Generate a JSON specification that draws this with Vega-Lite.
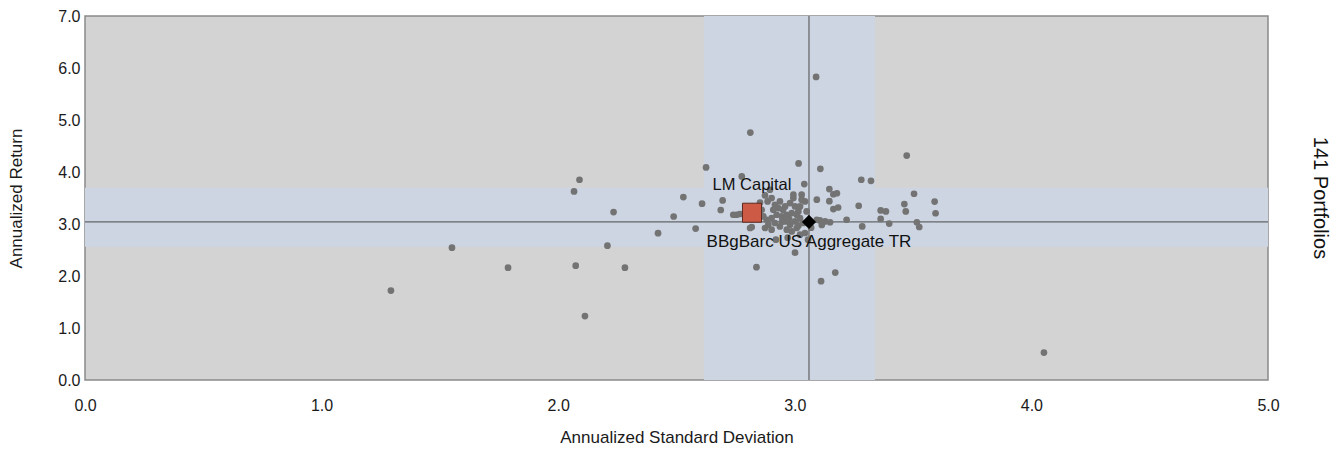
{
  "$schema": "https://vega.github.io/schema/vega-lite/v6.json",
  "width": 1183,
  "height": 364,
  "autosize": {"type": "none"},
  "padding": {"left": 85, "top": 16, "right": 74, "bottom": 71},
  "background": "white",
  "title": {"text": "141 Portfolios", "orient": "right", "anchor": "middle", "offset": 31, "fontSize": 20, "font": "Liberation Sans", "fontWeight": "normal", "color": "#111"},
  "datasets": {
    "bands": [
      {"x1": 2.616, "x2": 3.339, "y1": 0, "y2": 7},
      {"x1": 0, "x2": 5, "y1": 2.564, "y2": 3.697}
    ],
    "highlights": [
      {"name": "LM Capital", "std": 2.819, "ret": 3.217, "kind": "manager"},
      {"name": "BBgBarc US Aggregate TR", "std": 3.06, "ret": 3.04, "kind": "benchmark"}
    ],
    "portfolios": [
      {"std": 1.293, "ret": 1.719}, {"std": 1.551, "ret": 2.545}, {"std": 1.788, "ret": 2.161},
      {"std": 2.067, "ret": 3.626}, {"std": 2.09, "ret": 3.851}, {"std": 2.074, "ret": 2.199},
      {"std": 2.113, "ret": 1.229}, {"std": 2.208, "ret": 2.583}, {"std": 2.234, "ret": 3.23},
      {"std": 2.282, "ret": 2.161}, {"std": 2.422, "ret": 2.823}, {"std": 2.488, "ret": 3.144},
      {"std": 2.529, "ret": 3.518}, {"std": 2.608, "ret": 3.39}, {"std": 2.581, "ret": 2.913},
      {"std": 2.625, "ret": 4.087}, {"std": 2.812, "ret": 4.759}, {"std": 3.016, "ret": 4.164},
      {"std": 3.108, "ret": 4.062}, {"std": 2.695, "ret": 3.453}, {"std": 2.687, "ret": 3.269},
      {"std": 2.776, "ret": 3.914}, {"std": 2.818, "ret": 2.942}, {"std": 2.838, "ret": 2.17},
      {"std": 3.001, "ret": 2.449}, {"std": 3.04, "ret": 3.768}, {"std": 3.093, "ret": 3.467},
      {"std": 3.146, "ret": 3.672}, {"std": 3.146, "ret": 3.438}, {"std": 3.163, "ret": 3.572},
      {"std": 3.178, "ret": 3.591}, {"std": 3.163, "ret": 3.288}, {"std": 3.183, "ret": 3.317},
      {"std": 3.219, "ret": 3.082}, {"std": 3.27, "ret": 3.351}, {"std": 3.281, "ret": 3.851},
      {"std": 3.322, "ret": 3.831}, {"std": 3.285, "ret": 2.954}, {"std": 3.363, "ret": 3.261},
      {"std": 3.385, "ret": 3.242}, {"std": 3.363, "ret": 3.098}, {"std": 3.399, "ret": 3.009},
      {"std": 3.473, "ret": 4.315}, {"std": 3.504, "ret": 3.582}, {"std": 3.463, "ret": 3.384},
      {"std": 3.469, "ret": 3.242}, {"std": 3.516, "ret": 3.034}, {"std": 3.526, "ret": 2.942},
      {"std": 3.591, "ret": 3.432}, {"std": 3.595, "ret": 3.207}, {"std": 3.171, "ret": 2.065},
      {"std": 3.111, "ret": 1.901}, {"std": 3.106, "ret": 3.069}, {"std": 3.149, "ret": 3.034},
      {"std": 3.114, "ret": 2.981}, {"std": 3.128, "ret": 3.05}, {"std": 4.053, "ret": 0.528},
      {"std": 3.09, "ret": 5.829}, {"std": 3.029, "ret": 3.467}, {"std": 3.022, "ret": 3.338},
      {"std": 2.994, "ret": 3.563},
      {"std": 2.874, "ret": 3.549}, {"std": 2.885, "ret": 3.434}, {"std": 2.902, "ret": 3.499},
      {"std": 2.916, "ret": 3.37}, {"std": 2.93, "ret": 3.307}, {"std": 2.937, "ret": 3.434},
      {"std": 2.959, "ret": 3.338}, {"std": 2.98, "ret": 3.403}, {"std": 2.994, "ret": 3.499},
      {"std": 3.001, "ret": 3.338}, {"std": 3.015, "ret": 3.242}, {"std": 2.987, "ret": 3.211},
      {"std": 2.966, "ret": 3.178}, {"std": 2.945, "ret": 3.146}, {"std": 2.923, "ret": 3.178},
      {"std": 2.902, "ret": 3.115}, {"std": 2.881, "ret": 3.082}, {"std": 2.867, "ret": 3.146},
      {"std": 2.888, "ret": 2.986}, {"std": 2.916, "ret": 3.019}, {"std": 2.937, "ret": 2.954},
      {"std": 2.959, "ret": 3.05}, {"std": 2.98, "ret": 2.986}, {"std": 3.001, "ret": 3.05},
      {"std": 3.022, "ret": 3.115}, {"std": 3.036, "ret": 3.019}, {"std": 3.008, "ret": 2.923},
      {"std": 2.987, "ret": 2.858}, {"std": 2.966, "ret": 2.89}, {"std": 2.902, "ret": 2.89},
      {"std": 2.874, "ret": 2.923}, {"std": 2.811, "ret": 2.923}, {"std": 3.05, "ret": 3.242},
      {"std": 3.043, "ret": 3.434}, {"std": 3.029, "ret": 3.563}, {"std": 2.846, "ret": 3.211},
      {"std": 2.86, "ret": 3.274}, {"std": 2.754, "ret": 3.178}, {"std": 2.74, "ret": 3.178},
      {"std": 2.768, "ret": 3.192}, {"std": 3.093, "ret": 3.082}, {"std": 3.043, "ret": 2.827},
      {"std": 3.022, "ret": 2.794}, {"std": 2.95, "ret": 3.276}, {"std": 2.976, "ret": 3.101},
      {"std": 2.909, "ret": 3.274}, {"std": 3.015, "ret": 2.967}, {"std": 2.946, "ret": 3.044},
      {"std": 2.853, "ret": 3.411}, {"std": 2.97, "ret": 2.737}, {"std": 2.92, "ret": 2.699},
      {"std": 3.056, "ret": 2.699}, {"std": 2.895, "ret": 3.659}, {"std": 3.008, "ret": 3.178},
      {"std": 3.069, "ret": 2.929}
    ]
  },
  "layer": [
    {
      "data": {"name": "bands"},
      "mark": {"type": "rect", "color": "#cdd5e2"},
      "encoding": {
        "x": {"field": "x1", "type": "quantitative", "title": "Annualized Standard Deviation", "scale": {"domain": [0, 5], "nice": false, "zero": true}, "axis": {"values": [0, 1, 2, 3, 4, 5], "format": ".1f"}},
        "x2": {"field": "x2"},
        "y": {"field": "y1", "type": "quantitative", "title": "Annualized Return", "scale": {"domain": [0, 7], "nice": false, "zero": true}, "axis": {"values": [0, 1, 2, 3, 4, 5, 6, 7], "format": ".1f"}},
        "y2": {"field": "y2"}
      }
    },
    {
      "data": {"values": [{"v": 3.06}]},
      "mark": {"type": "rule", "color": "#4a4a4a", "strokeWidth": 1},
      "encoding": {"x": {"field": "v", "type": "quantitative", "title": "Annualized Standard Deviation"}}
    },
    {
      "data": {"values": [{"v": 3.04}]},
      "mark": {"type": "rule", "color": "#4a4a4a", "strokeWidth": 1},
      "encoding": {"y": {"field": "v", "type": "quantitative", "title": "Annualized Return"}}
    },
    {
      "data": {"name": "portfolios"},
      "mark": {"type": "circle", "size": 45, "color": "#737373", "opacity": 1},
      "encoding": {
        "x": {"field": "std", "type": "quantitative", "title": "Annualized Standard Deviation"},
        "y": {"field": "ret", "type": "quantitative", "title": "Annualized Return"}
      }
    },
    {
      "data": {"name": "highlights"},
      "transform": [{"filter": "datum.kind === 'manager'"}],
      "mark": {"type": "point", "shape": "square", "filled": true, "size": 361, "fill": "#cd5a45", "stroke": "#5b2a20", "strokeWidth": 1, "opacity": 1},
      "encoding": {
        "x": {"field": "std", "type": "quantitative", "title": "Annualized Standard Deviation"},
        "y": {"field": "ret", "type": "quantitative", "title": "Annualized Return"}
      }
    },
    {
      "data": {"name": "highlights"},
      "transform": [{"filter": "datum.kind === 'benchmark'"}],
      "mark": {"type": "point", "shape": "diamond", "filled": true, "size": 200, "fill": "#000000", "opacity": 1},
      "encoding": {
        "x": {"field": "std", "type": "quantitative", "title": "Annualized Standard Deviation"},
        "y": {"field": "ret", "type": "quantitative", "title": "Annualized Return"}
      }
    },
    {
      "data": {"name": "highlights"},
      "transform": [{"filter": "datum.kind === 'manager'"}],
      "mark": {"type": "text", "dy": -28, "baseline": "middle", "align": "center", "font": "Liberation Sans", "fontSize": 16.5, "color": "#111"},
      "encoding": {
        "x": {"field": "std", "type": "quantitative", "title": "Annualized Standard Deviation"},
        "y": {"field": "ret", "type": "quantitative", "title": "Annualized Return"},
        "text": {"field": "name"}
      }
    },
    {
      "data": {"name": "highlights"},
      "transform": [{"filter": "datum.kind === 'benchmark'"}],
      "mark": {"type": "text", "dy": 20, "baseline": "middle", "align": "center", "font": "Liberation Sans", "fontSize": 17, "color": "#111"},
      "encoding": {
        "x": {"field": "std", "type": "quantitative", "title": "Annualized Standard Deviation"},
        "y": {"field": "ret", "type": "quantitative", "title": "Annualized Return"},
        "text": {"field": "name"}
      }
    }
  ],
  "config": {
    "view": {"fill": "#d3d3d3", "stroke": "#8a8a8a", "strokeWidth": 1.5},
    "axis": {
      "domain": false, "ticks": false, "grid": false,
      "labelFont": "Liberation Sans", "labelFontSize": 16, "labelColor": "#1a1a1a",
      "titleFont": "Liberation Sans", "titleFontSize": 17, "titleFontWeight": "normal", "titleColor": "#1a1a1a"
    },
    "axisX": {"labelPadding": 17, "titlePadding": 16, "labelFlush": false},
    "axisY": {"labelPadding": 5, "titlePadding": 32, "labelFlush": false}
  }
}
